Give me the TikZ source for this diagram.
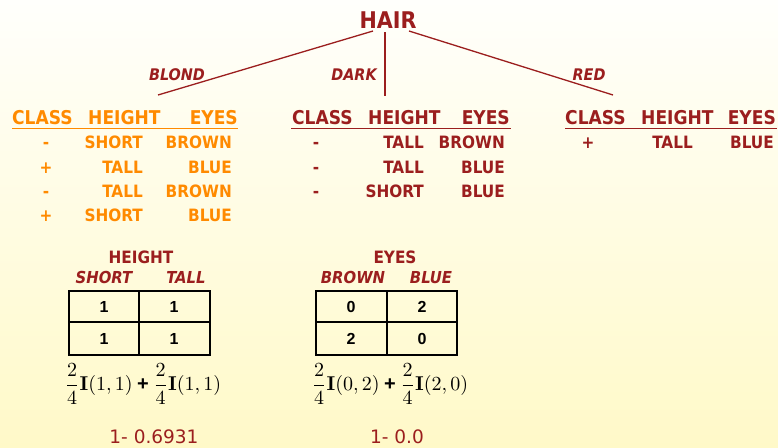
\documentclass[tikz,border=0pt]{standalone}
\usepackage[no-math]{fontspec}
\usepackage{graphicx}
\setmainfont{DejaVu Sans Condensed}
\newfontfamily\numfont{Liberation Sans}
\newfontfamily\resfont{DejaVu Sans}
\definecolor{dred}{RGB}{155,30,30}
\definecolor{orng}{RGB}{255,138,0}
\definecolor{bgtop}{RGB}{255,255,252}
\definecolor{bgbot}{RGB}{255,249,200}
\newcommand{\bplus}{\mathbin{\hbox{\numfont\bfseries +}}}
\newcommand{\bigformula}[1]{\scalebox{2.0}{$\displaystyle #1$}}
\tikzset{
  branch/.style={draw=dred, line width=1.3pt},
  brlabel/.style={text=dred, font=\fontsize{16}{18}\selectfont\bfseries\itshape, inner sep=0pt},
  head/.style={font=\fontsize{19}{22}\selectfont\bfseries, inner sep=0pt, anchor=base west},
  heade/.style={head, anchor=base east},
  cell/.style={font=\fontsize{17}{19}\selectfont\bfseries, inner sep=0pt},
  rule/.style={line width=1pt},
  sub/.style={text=dred, font=\fontsize{17}{19}\selectfont\bfseries, inner sep=0pt, anchor=base},
  subi/.style={text=dred, font=\fontsize{16.5}{19}\selectfont\bfseries\itshape, inner sep=0pt, anchor=base},
  num/.style={font=\numfont\fontsize{16}{18}\selectfont\bfseries, inner sep=0pt},
  grid/.style={draw=black, line width=1.2pt},
  res/.style={text=dred, font=\resfont\fontsize{18.5}{20}\selectfont, inner sep=0pt},
  formula/.style={inner sep=0pt, font=\normalsize}
}
\begin{document}
\begin{tikzpicture}[x=1pt,y=-1pt]
% background
\shade[top color=bgtop, bottom color=bgbot] (0,0) rectangle (778,447);
\useasboundingbox (0,0) rectangle (778,447);

% root of the tree
\node[text=dred, font=\fontsize{23}{26}\selectfont\bfseries, inner sep=0pt] (hair) at (388,20) {HAIR};
\coordinate (bL) at (158,95);
\coordinate (bM) at (385,96);
\coordinate (bR) at (613,95);
\draw[branch] ([xshift=-15pt,yshift=-11pt]hair.center) -- (bL);
\draw[branch] ([xshift=-3pt,yshift=-12pt]hair.center) -- (bM);
\draw[branch] ([xshift=21pt,yshift=-11pt]hair.center) -- (bR);
\node[brlabel] (lblond) at (177,75) {BLOND};
\node[brlabel] (ldark) at (354,75) {DARK};
\node[brlabel] (lred) at (589,75) {RED};

% BLOND subset
\begin{scope}[every node/.append style={text=orng}]
  \node[head] (lc) at (12,124) {CLASS};
  \node[head] (lh) at (88,124) {HEIGHT};
  \node[heade] (le) at (238,124) {EYES};
  \draw[rule, orng] (12,128) -- (238,128);
  \foreach \c/\h/\e [count=\i] in {-/SHORT/BROWN,+/TALL/BLUE,-/TALL/BROWN,+/SHORT/BLUE}{
    \node[cell, anchor=base] (lc\i) at (46,{124.5+24.3*\i}) {\c};
    \node[cell, anchor=base east] (lh\i) at (143,{124.5+24.3*\i}) {\h};
    \node[cell, anchor=base east] (le\i) at (232,{124.5+24.3*\i}) {\e};
  }
\end{scope}

% DARK subset
\begin{scope}[every node/.append style={text=dred}]
  \node[head] (mc) at (292,124) {CLASS};
  \node[head] (mh) at (368,124) {HEIGHT};
  \node[heade] (me) at (510,124) {EYES};
  \draw[rule, dred] (291,128) -- (511,128);
  \foreach \c/\h/\e [count=\i] in {-/TALL/BROWN,-/TALL/BLUE,-/SHORT/BLUE}{
    \node[cell, anchor=base] (mc\i) at (316,{124.5+24.3*\i}) {\c};
    \node[cell, anchor=base east] (mh\i) at (424,{124.5+24.3*\i}) {\h};
    \node[cell, anchor=base east] (me\i) at (505,{124.5+24.3*\i}) {\e};
  }
\end{scope}

% RED subset
\begin{scope}[every node/.append style={text=dred}]
  \node[head] (rc) at (565,124) {CLASS};
  \node[head] (rh) at (641,124) {HEIGHT};
  \node[heade] (re) at (776,124) {EYES};
  \draw[rule, dred] (565,128) -- (777,128);
  \node[cell, anchor=base] (rc1) at (588,148.8) {+};
  \node[cell, anchor=base east] (rh1) at (693,148.8) {TALL};
  \node[cell, anchor=base east] (re1) at (774,148.8) {BLUE};
\end{scope}

% split on HEIGHT
\node[sub] (hh) at (141,263) {HEIGHT};
\node[subi] (hs) at (104,283) {SHORT};
\node[subi] (ht) at (186,283) {TALL};
\draw[grid] (69,291) rectangle (210,355);
\draw[grid] (139,291) -- (139,355);
\draw[grid] (69,322) -- (210,322);
\node[num] (h11) at (104,307) {1};
\node[num] (h12) at (174,307) {1};
\node[num] (h21) at (104,339) {1};
\node[num] (h22) at (174,339) {1};
\node[formula] (hf) at (143,384) {\bigformula{\frac{2}{4}\mathbf{I}(1,1)\bplus\frac{2}{4}\mathbf{I}(1,1)}};
\node[res] (hr) at (154,437) {1- 0.6931};

% split on EYES
\node[sub] (ee) at (395,263) {EYES};
\node[subi] (eb) at (353,283) {BROWN};
\node[subi] (eu) at (431,283) {BLUE};
\draw[grid] (316,291) rectangle (457,355);
\draw[grid] (387,291) -- (387,355);
\draw[grid] (316,322) -- (457,322);
\node[num] (e11) at (351,307) {0};
\node[num] (e12) at (422,307) {2};
\node[num] (e21) at (351,339) {2};
\node[num] (e22) at (422,339) {0};
\node[formula] (ef) at (390,384) {\bigformula{\frac{2}{4}\mathbf{I}(0,2)\bplus\frac{2}{4}\mathbf{I}(2,0)}};
\node[res] (er) at (397,437) {1- 0.0};
\end{tikzpicture}
\end{document}
